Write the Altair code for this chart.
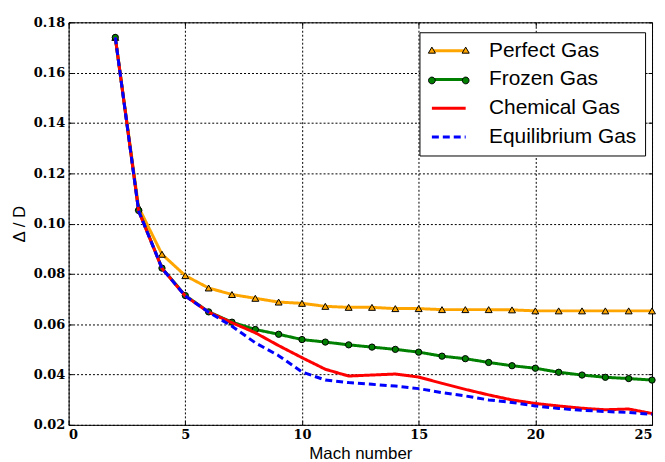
import altair as alt
import pandas as pd

mach = list(range(2, 26))
perfect = [0.174, 0.1065, 0.0878, 0.0793, 0.0744, 0.0718, 0.0703, 0.0688, 0.0683, 0.0671,
           0.0667, 0.0667, 0.0662, 0.0662, 0.0658, 0.0658, 0.0658, 0.0657, 0.0653, 0.0653,
           0.0653, 0.0653, 0.0653, 0.0653]
frozen = [0.174, 0.1052, 0.0823, 0.0714, 0.0649, 0.0608, 0.0579, 0.0560, 0.0539, 0.0529,
          0.0518, 0.0509, 0.0500, 0.0489, 0.0473, 0.0463, 0.0448, 0.0435, 0.0425, 0.0409,
          0.0398, 0.0389, 0.0384, 0.0378]
chemical = [0.174, 0.1050, 0.0822, 0.0712, 0.0648, 0.0606, 0.0566, 0.0515, 0.0467, 0.0421,
            0.0394, 0.0398, 0.0402, 0.0390, 0.0365, 0.0341, 0.0319, 0.0299, 0.0285, 0.0275,
            0.0266, 0.0260, 0.0263, 0.0245]
equilibrium = [0.174, 0.1050, 0.0822, 0.0712, 0.0648, 0.0592, 0.0526, 0.0475, 0.0410, 0.0378,
               0.0368, 0.0361, 0.0354, 0.0344, 0.0328, 0.0315, 0.0299, 0.0289, 0.0275, 0.0265,
               0.0258, 0.0253, 0.0249, 0.0242]

series_names = ["Perfect Gas", "Frozen Gas", "Chemical Gas", "Equilibrium Gas"]
colors = ["#FFA500", "#008000", "#FF0000", "#0000FF"]
dashes = [[1, 0], [1, 0], [1, 0], [7, 4]]
x_ticks = [0, 5, 10, 15, 20, 25]
y_ticks = [0.02, 0.04, 0.06, 0.08, 0.10, 0.12, 0.14, 0.16, 0.18]

rows = []
for name, vals in zip(series_names, [perfect, frozen, chemical, equilibrium]):
    for m, v in zip(mach, vals):
        rows.append({"series": name, "m1": name, "m2": name, "mach": m, "value": v})
df = pd.DataFrame(rows)

W, H = 587, 405
LX, LY = 353, 10
PAD = 8
ROW = 30
ROW_H = 23
SYM = 289
SYM_OFF = 11
LAB_OFF = 30
LAB_SIZE = 21
LINE_PATH = "M-2,0H2"
TRI_PATH = "M-2.42,0.3L-1.58,0.3L-2,-0.42Z M1.58,0.3L2.42,0.3L2,-0.42Z"
CIRC_PATH = ("M-1.6,0A0.4,0.4,0,1,1,-2.4,0A0.4,0.4,0,1,1,-1.6,0Z "
             "M2.4,0A0.4,0.4,0,1,1,1.6,0A0.4,0.4,0,1,1,2.4,0Z")

xscale = alt.Scale(domain=[0, 25], nice=False)
yscale = alt.Scale(domain=[0.02, 0.18], nice=False, zero=False)

common = dict(labelFont="DejaVu Serif", labelFontWeight="bold", labelFontSize=13,
              labelColor="black", titleFont="Liberation Sans", titleFontSize=17,
              titleFontWeight="normal", titleColor="black", grid=True,
              gridColor="#000000", gridDash=[2, 2], gridWidth=1, gridOpacity=1,
              domain=False, ticks=True, tickSize=4, tickColor="black", tickWidth=1,
              offset=-4)

main_x_axis = alt.Axis(values=x_ticks, orient="bottom", title="Mach number",
                       labelPadding=4, format="d", titlePadding=4, **common)
main_y_axis = alt.Axis(values=y_ticks, orient="left", title="Δ / D", labelPadding=4,
                       format=".2f", titlePadding=5, **common)
sec_x_axis = alt.Axis(values=x_ticks, orient="top", offset=-4, tickSize=4, labels=False,
                      grid=False, title=None, domain=False, tickColor="black", tickWidth=1)
sec_y_axis = alt.Axis(values=y_ticks, orient="right", offset=-4, tickSize=4, labels=False,
                      grid=False, title=None, domain=False, tickColor="black", tickWidth=1)

line_legend = alt.Legend(title=None, orient="none", legendX=LX, legendY=LY,
                         symbolType=LINE_PATH, symbolSize=SYM, symbolOffset=SYM_OFF,
                         labelOffset=LAB_OFF, labelFont="Liberation Sans",
                         labelFontSize=LAB_SIZE, padding=PAD, rowPadding=ROW - ROW_H,
                         symbolStrokeWidth=3, labelColor="black",
                         fillColor="white", strokeColor="black")

color_enc = alt.Color("series:N", scale=alt.Scale(domain=series_names, range=colors),
                      legend=line_legend)
dash_enc = alt.StrokeDash("series:N", scale=alt.Scale(domain=series_names, range=dashes),
                          legend=line_legend)

layers = []
for i, name in enumerate(series_names):
    xa, ya = (main_x_axis, main_y_axis) if i == 0 else (None, None)
    line = alt.Chart(df).transform_filter(alt.datum.series == name).mark_line(
        strokeWidth=3, strokeCap="butt").encode(
        x=alt.X("mach:Q", scale=xscale, axis=xa),
        y=alt.Y("value:Q", scale=yscale, axis=ya),
        color=color_enc, strokeDash=dash_enc)
    layers.append(line)
    if i < 2:
        field = "m1" if i == 0 else "m2"
        path = TRI_PATH if i == 0 else CIRC_PATH
        shape = "triangle-up" if i == 0 else "circle"
        size = 48 if i == 0 else 40
        mleg = alt.Legend(title=None, orient="none", legendX=LX, legendY=LY + i * ROW,
                          symbolType=path, symbolSize=SYM, symbolOffset=SYM_OFF,
                          labelOffset=LAB_OFF, labelFont="Liberation Sans",
                          labelFontSize=LAB_SIZE, padding=PAD, labelOpacity=0,
                          symbolStrokeColor="black", symbolStrokeWidth=1, symbolOpacity=1)
        xa2, ya2 = (sec_x_axis, sec_y_axis) if i == 0 else (None, None)
        pts = alt.Chart(df).transform_filter(alt.datum.series == name).mark_point(
            filled=True, shape=shape, size=size, stroke="black", strokeWidth=1,
            opacity=1).encode(
            x=alt.X("mach:Q", scale=xscale, axis=xa2),
            y=alt.Y("value:Q", scale=yscale, axis=ya2),
            fill=alt.Fill(f"{field}:N", scale=alt.Scale(domain=[name], range=[colors[i]]),
                          legend=mleg))
        layers.append(pts)

chart = alt.layer(*layers).resolve_axis(x="independent", y="independent").resolve_scale(
    fill="independent").resolve_legend(fill="independent").properties(
    width=W, height=H,
    autosize=alt.AutoSizeParams(type="none"),
    padding={"left": 61, "top": 13, "right": 5, "bottom": 40},
).configure_view(stroke="black", strokeWidth=1)

chart.save("out.html", embed_options={"renderer": "svg", "actions": False})
